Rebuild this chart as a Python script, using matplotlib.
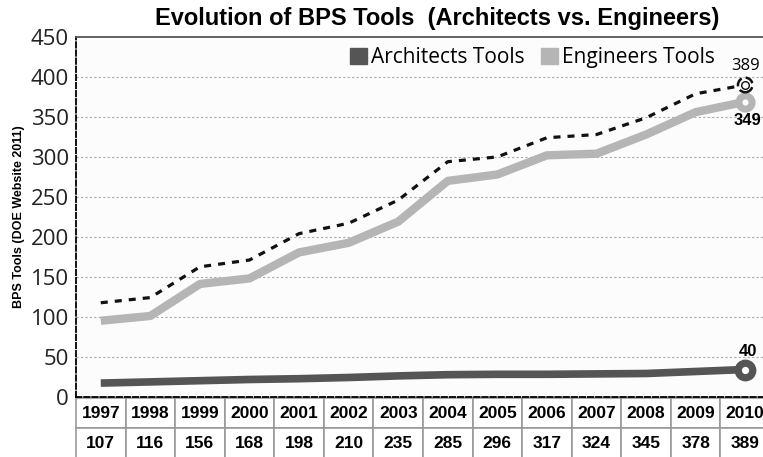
import numpy as np
import matplotlib.pyplot as plt
from matplotlib.patches import Patch

# data
years = ["1997", "1998", "1999", "2000", "2001", "2002", "2003",
         "2004", "2005", "2006", "2007", "2008", "2009", "2010"]
totals = ["107", "116", "156", "168", "198", "210", "235",
          "285", "296", "317", "324", "345", "378", "389"]
architects = [17, 18.5, 20, 21.5, 22.5, 24, 26, 27.5, 28, 28, 28.5, 29, 31.5, 34]
engineers = [95, 101, 141, 148, 180.5, 192.5, 219, 270, 278, 302, 304, 328, 356, 369]
all_tools = [117.5, 124, 162.5, 171, 204, 217, 246, 294, 300, 324, 328, 349, 379, 390]

x = np.arange(len(years))

fig = plt.figure(figsize=(7.63, 4.57), dpi=100)
ax = fig.add_axes([0.0996, 0.132, 0.9096, 0.787])
ax.set_facecolor("#fcfcfc")

# grid
for v in range(50, 450, 50):
    ax.axhline(v, color="#aaaaaa", lw=0.8, ls=(0, (2, 2)), zorder=0)

ax.plot(x, all_tools, color="#111111", lw=2.3, ls=(0, (2.2, 2.2)), zorder=3)
ax.plot(x, engineers, color="#b5b5b5", lw=6, solid_capstyle="butt", zorder=2)
ax.plot(x, architects, color="#555555", lw=5.5, solid_capstyle="butt", zorder=2)

# end markers
ax.plot(x[-1], architects[-1], "o", ms=10.5, mew=5.2, mfc="white", mec="#555555", zorder=4)
ax.plot(x[-1], engineers[-1], "o", ms=9.5, mew=5, mfc="white", mec="#b5b5b5", zorder=4)
ax.scatter([x[-1]], [all_tools[-1]], s=110, facecolors="white", edgecolors="#111111",
           linewidths=1.8, linestyles="--", zorder=4)
ax.plot(x[-1], all_tools[-1], "o", ms=5.5, mew=1, mfc="white", mec="#111111", zorder=5)

ax.text(x[-1] + 0.05, architects[-1] + 13, "40", ha="center", va="bottom",
        fontsize=12, fontweight="bold", family="Liberation Sans")
ax.text(x[-1] + 0.05, engineers[-1] - 14, "349", ha="center", va="top",
        fontsize=12, fontweight="bold", family="Liberation Sans")
ax.text(x[-1], all_tools[-1] + 14, "389", ha="center", va="bottom",
        fontsize=12, family="Open Sans")

ax.set_xlim(-0.5, 13.5)
ax.set_ylim(0, 450)
ax.set_yticks(range(0, 451, 50))
ax.set_xticks([])
ax.tick_params(axis="y", length=0, pad=5, labelsize=16)
for t in ax.get_yticklabels():
    t.set_family("Open Sans")
    t.set_color("#222222")

ax.spines["left"].set_linestyle((0, (3, 1.5)))
ax.spines["left"].set_linewidth(1.3)
ax.spines["bottom"].set_linestyle((0, (3, 1.5)))
ax.spines["bottom"].set_linewidth(1.3)
ax.spines["top"].set_color("#555555")
ax.spines["top"].set_linewidth(1.3)
ax.spines["right"].set_visible(False)

ax.set_ylabel("BPS Tools (DOE Website 2011)", fontsize=9, fontweight="bold",
              family="Liberation Sans", labelpad=4)

# legend with square patches
handles = [Patch(color="#555555"), Patch(color="#b5b5b5")]
ax.legend(handles, ["Architects Tools", "Engineers Tools"], loc="upper right",
          bbox_to_anchor=(0.948, 1.025), ncol=2, frameon=False, handlelength=0.8,
          handleheight=0.8, handletextpad=0.2, columnspacing=0.8,
          prop={"family": "Open Sans", "size": 15})

# table under the plot
tab = ax.table(cellText=[years, totals], cellLoc="center",
               bbox=[0, -0.172, 1, 0.168])
tab.auto_set_font_size(False)
for (r, c), cell in tab.get_celld().items():
    cell.set_edgecolor("#999999")
    cell.set_linewidth(1.2)
    cell.set_facecolor("white")
    cell.get_text().set_fontsize(12.5)
    cell.get_text().set_fontweight("bold")
    cell.get_text().set_family("Liberation Sans")

fig.text(0.573, 0.96, "Evolution of BPS Tools  (Architects vs. Engineers)",
         ha="center", va="center", fontsize=17, fontweight="bold",
         family=["DejaVu Sans Condensed", "Liberation Sans"])

fig.savefig("out.png", dpi=100)
